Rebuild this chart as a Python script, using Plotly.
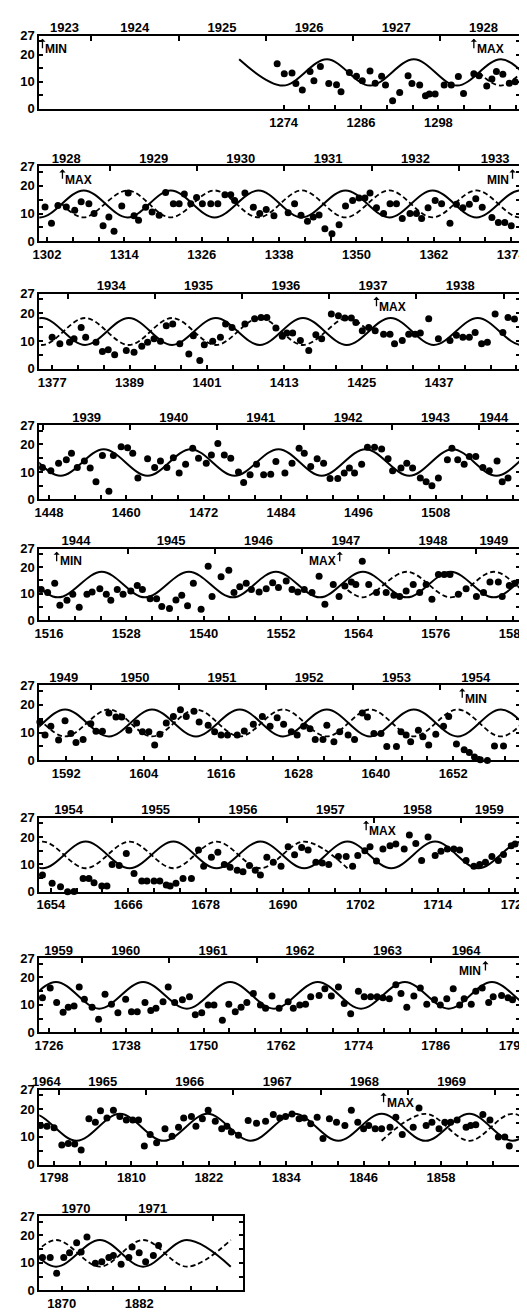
import plotly.graph_objects as go

W, H = 527, 1313
LEFT_PX = 25
PX_PER_ROT = 6.65
HI, LO, MID = 18.3, 8.6, 13.45
FONT = "Liberation Sans, Arial, Helvetica, sans-serif"

# ---------------- data (Bartels rotation, value) ----------------
P1_ROT = [1273.0, 1274.1, 1275.3, 1275.9, 1276.9, 1278.1, 1278.7, 1279.7, 1281.0, 1282.2,
          1282.9, 1284.2, 1285.3, 1286.2, 1287.4, 1288.2, 1289.2, 1289.8, 1290.9, 1292.0,
          1293.3, 1293.9, 1295.1, 1296.0, 1296.6, 1297.5, 1298.9, 1300.0, 1301.1, 1301.9,
          1303.5, 1304.3, 1305.5, 1306.3, 1307.0, 1308.0, 1309.0, 1309.9]
P1_VAL = [16.7, 13.0, 13.3, 9.4, 7.0, 13.8, 10.4, 15.7, 9.4, 8.9,
          6.3, 13.4, 12.1, 10.4, 14.0, 9.5, 12.1, 8.8, 3.0, 6.1,
          12.2, 9.4, 8.8, 4.9, 5.5, 5.5, 8.8, 8.8, 12.0, 5.7,
          13.0, 12.2, 8.5, 11.0, 13.8, 12.8, 9.5, 10.0]

P2_ROT = [1301.7, 1302.7, 1303.7, 1305.0, 1306.3, 1307.3, 1308.5, 1309.3, 1310.7, 1311.6,
          1312.4, 1313.6, 1314.6, 1315.5, 1316.2, 1317.3, 1318.3, 1319.4, 1320.4, 1321.6,
          1322.5, 1323.3, 1324.3, 1325.2, 1326.1, 1327.4, 1328.5, 1329.6, 1330.5, 1331.1,
          1332.7, 1334.0, 1335.0, 1336.0, 1337.2, 1339.4, 1340.4, 1341.4, 1342.4, 1343.3,
          1344.2, 1345.1, 1346.2, 1347.3, 1348.3, 1349.4, 1350.4, 1351.3, 1352.1, 1353.1,
          1354.2, 1355.2, 1356.2, 1357.1, 1358.3, 1359.3, 1360.1, 1361.1, 1362.2, 1363.2,
          1364.5, 1365.5, 1366.5, 1367.5, 1368.5, 1369.5, 1371.0, 1372.0, 1373.0, 1374.0]
P2_VAL = [12.4, 6.5, 12.9, 12.4, 11.2, 14.2, 13.5, 10.0, 5.6, 8.8,
          3.6, 12.7, 17.4, 9.2, 7.6, 12.3, 10.6, 9.4, 17.6, 13.5,
          13.5, 17.0, 13.5, 15.8, 13.5, 13.5, 13.5, 16.8, 16.8, 14.7,
          17.4, 12.3, 10.0, 11.5, 9.2, 10.3, 13.5, 9.4, 7.2, 8.8,
          9.5, 4.5, 2.7, 6.0, 12.7, 14.7, 15.6, 15.6, 17.4, 12.1,
          10.0, 13.5, 13.5, 8.2, 10.0, 10.0, 8.2, 12.1, 14.7, 13.5,
          6.5, 13.3, 12.1, 13.3, 15.3, 12.3, 8.6, 6.8, 6.8, 5.6]

P3_ROT = [1377.0, 1378.2, 1379.7, 1380.4, 1381.5, 1382.2, 1383.8, 1384.8, 1385.7, 1386.7,
          1388.5, 1389.7, 1390.9, 1391.8, 1392.8, 1393.8, 1394.7, 1395.7, 1396.8, 1398.2,
          1398.9, 1399.9, 1400.6, 1401.9, 1403.1, 1403.9, 1404.9, 1406.9, 1408.4, 1409.4,
          1410.3, 1411.7, 1412.7, 1413.4, 1414.3, 1415.5, 1416.8, 1417.9, 1418.8, 1420.3,
          1421.4, 1422.4, 1423.4, 1424.1, 1425.1, 1426.1, 1427.1, 1428.4, 1429.4, 1430.1,
          1431.3, 1432.3, 1433.3, 1434.1, 1435.4, 1436.9, 1438.7, 1439.7, 1440.7, 1441.7,
          1442.6, 1443.6, 1444.5, 1445.7, 1446.9, 1447.7, 1448.7]
P3_VAL = [11.4, 9.0, 9.6, 10.8, 14.9, 11.4, 9.6, 6.3, 6.9, 5.1,
          6.6, 6.0, 8.1, 9.6, 10.8, 9.9, 15.5, 16.1, 9.0, 5.4,
          11.9, 3.0, 8.7, 9.9, 11.4, 16.1, 14.9, 16.1, 18.0, 18.5,
          18.5, 14.7, 11.7, 12.9, 12.9, 10.2, 6.6, 12.3, 10.8, 19.7,
          19.1, 18.3, 18.3, 16.7, 13.7, 14.9, 13.7, 12.5, 12.5, 9.0,
          10.2, 12.5, 12.5, 12.9, 18.0, 10.8, 10.2, 12.1, 11.4, 11.4,
          13.1, 9.0, 9.6, 19.7, 13.1, 18.5, 17.9]

P4_ROT = [1447.0, 1448.3, 1449.5, 1450.7, 1451.5, 1452.4, 1453.5, 1454.4, 1455.3, 1456.3,
          1457.3, 1458.0, 1459.2, 1460.2, 1461.0, 1461.8, 1463.3, 1464.4, 1465.3, 1466.3,
          1467.3, 1468.2, 1469.2, 1470.3, 1471.2, 1472.4, 1473.2, 1474.2, 1475.2, 1476.2,
          1477.4, 1478.2, 1479.2, 1480.2, 1481.3, 1482.4, 1483.2, 1484.6, 1485.7, 1486.8,
          1487.6, 1488.6, 1489.6, 1490.6, 1491.6, 1492.8, 1493.8, 1494.6, 1495.4, 1496.5,
          1497.4, 1498.5, 1499.6, 1500.6, 1501.3, 1502.6, 1503.5, 1504.4, 1505.6, 1506.5,
          1507.4, 1508.4, 1509.8, 1510.5, 1511.4, 1512.4, 1513.2, 1514.2, 1515.3, 1516.3,
          1517.5, 1518.3, 1519.2]
P4_VAL = [11.6, 10.4, 13.2, 14.4, 16.8, 11.6, 14.0, 11.4, 6.4, 16.0,
          3.0, 16.0, 19.2, 18.8, 16.8, 7.8, 14.8, 11.6, 14.0, 11.6,
          15.2, 9.6, 12.8, 18.6, 15.0, 13.2, 16.2, 20.4, 16.2, 15.0,
          10.0, 6.2, 9.0, 12.8, 9.0, 9.2, 13.8, 9.6, 13.2, 18.6,
          16.8, 12.0, 14.8, 13.2, 7.6, 7.6, 9.6, 11.4, 9.6, 12.8,
          19.0, 19.0, 18.4, 14.8, 10.4, 11.4, 13.2, 11.4, 7.8, 6.4,
          5.0, 7.8, 14.4, 18.6, 14.4, 12.8, 15.6, 15.6, 11.6, 10.4,
          14.0, 6.4, 7.8]

P5_ROT = [1514.8, 1515.8, 1516.9, 1517.7, 1518.8, 1519.7, 1520.7, 1521.9, 1522.7, 1523.9,
          1524.9, 1525.6, 1526.6, 1527.5, 1528.7, 1529.7, 1530.5, 1531.7, 1532.7, 1533.5,
          1534.7, 1535.7, 1536.6, 1537.5, 1538.4, 1539.6, 1540.7, 1541.3, 1542.7, 1543.9,
          1544.7, 1545.6, 1546.6, 1547.4, 1548.6, 1549.7, 1550.7, 1551.6, 1552.8, 1553.7,
          1554.6, 1555.6, 1556.8, 1557.9, 1558.8, 1560.1, 1561.0, 1561.9, 1562.9, 1563.6,
          1564.6, 1565.6, 1566.8, 1568.3, 1569.5, 1570.4, 1571.4, 1572.5, 1573.5, 1574.5,
          1575.4, 1576.4, 1577.3, 1578.2, 1579.5, 1580.7, 1582.3, 1583.4, 1584.4, 1585.7,
          1586.3, 1587.4, 1588.3]
P5_VAL = [11.6, 10.4, 13.9, 5.6, 7.5, 9.8, 4.8, 9.8, 10.6, 11.9,
          9.8, 7.5, 11.6, 9.8, 11.0, 13.1, 11.6, 8.1, 8.1, 5.1,
          4.4, 7.6, 9.4, 5.4, 13.9, 4.1, 20.4, 8.9, 16.4, 18.9,
          10.4, 12.6, 13.9, 11.6, 10.6, 11.9, 14.1, 12.3, 14.8, 11.6,
          10.6, 11.6, 10.4, 16.6, 6.0, 13.5, 8.9, 12.9, 14.4, 13.5,
          22.3, 13.5, 10.4, 10.4, 9.4, 8.9, 11.0, 13.5, 10.4, 13.5,
          7.9, 17.3, 17.3, 17.3, 9.8, 11.9, 8.9, 10.4, 14.4, 14.4,
          8.9, 13.1, 13.9]

P6_ROT = [1587.9, 1588.7, 1589.6, 1590.8, 1591.8, 1592.7, 1593.5, 1594.6, 1595.8, 1596.6,
          1597.6, 1598.6, 1599.7, 1600.6, 1601.7, 1602.9, 1603.8, 1604.8, 1605.7, 1606.5,
          1607.5, 1608.6, 1609.7, 1610.6, 1611.8, 1612.6, 1614.0, 1615.0, 1616.0, 1617.0,
          1618.5, 1619.6, 1621.0, 1622.4, 1623.6, 1624.7, 1625.7, 1626.9, 1627.8, 1628.8,
          1629.8, 1630.6, 1631.8, 1632.4, 1633.5, 1634.4, 1635.7, 1636.7, 1637.9, 1638.7,
          1639.7, 1640.8, 1641.7, 1643.2, 1643.9, 1644.7, 1645.4, 1646.6, 1647.3, 1648.2,
          1649.3, 1650.5, 1651.3, 1652.5, 1653.7, 1654.5, 1655.3, 1656.2, 1657.3, 1658.4,
          1659.8]
P6_VAL = [13.8, 9.1, 12.3, 7.3, 14.2, 9.7, 6.4, 7.5, 13.2, 10.5,
          10.5, 17.0, 15.6, 15.6, 10.8, 13.4, 10.3, 10.3, 5.5, 9.4,
          13.4, 15.8, 18.2, 15.8, 17.7, 13.8, 12.6, 10.3, 9.1, 9.1,
          9.1, 10.6, 13.0, 15.8, 12.3, 15.3, 13.0, 10.3, 9.1, 12.3,
          11.4, 7.5, 7.5, 12.6, 6.7, 10.3, 9.1, 7.5, 17.0, 15.6,
          9.7, 9.7, 5.0, 5.0, 10.3, 9.1, 6.7, 10.8, 8.5, 5.5,
          9.4, 12.3, 15.8, 5.9, 3.8, 2.8, 1.2, 0.2, 0.0, 5.2,
          5.2]

P7_ROT = [1652.7, 1654.2, 1655.5, 1656.6, 1657.6, 1659.0, 1659.9, 1660.7, 1661.9, 1662.7,
          1663.5, 1664.6, 1665.7, 1666.9, 1668.1, 1668.9, 1670.0, 1670.9, 1671.9, 1672.5,
          1673.4, 1674.5, 1675.8, 1676.9, 1677.7, 1678.9, 1679.9, 1680.9, 1681.8, 1682.9,
          1683.8, 1684.8, 1685.7, 1686.5, 1687.5, 1688.5, 1689.7, 1690.8, 1691.8, 1692.9,
          1693.9, 1695.1, 1696.1, 1697.1, 1698.6, 1699.8, 1700.8, 1701.6, 1702.7, 1703.5,
          1704.5, 1705.5, 1706.6, 1707.5, 1708.8, 1709.6, 1710.6, 1711.5, 1712.5, 1713.6,
          1714.5, 1715.5, 1716.5, 1717.4, 1718.4, 1719.6, 1720.5, 1721.4, 1722.4, 1723.4,
          1724.2, 1725.4, 1726.0]
P7_VAL = [6.1, 3.1, 1.9, 0.0, 0.1, 4.9, 4.9, 3.3, 2.1, 2.1,
          10.0, 9.6, 14.0, 6.7, 4.0, 4.0, 4.0, 4.0, 2.5, 2.1,
          3.1, 4.9, 4.9, 15.2, 9.3, 12.6, 14.4, 10.0, 9.0, 7.9,
          7.3, 9.6, 7.9, 6.1, 12.6, 10.8, 9.3, 16.4, 13.5, 16.2,
          15.2, 10.8, 10.5, 10.0, 12.9, 12.9, 9.3, 13.2, 15.0, 16.4,
          11.2, 15.6, 16.8, 17.4, 15.6, 20.7, 17.6, 11.4, 20.0, 13.2,
          14.8, 15.6, 15.6, 15.2, 11.4, 9.3, 10.0, 10.8, 12.9, 11.4,
          13.6, 16.8, 17.4]

P8_ROT = [1725.0, 1726.2, 1727.2, 1728.2, 1729.0, 1729.9, 1730.7, 1731.5, 1732.7, 1733.7,
          1734.7, 1735.7, 1736.7, 1737.9, 1738.8, 1739.7, 1740.9, 1741.8, 1742.6, 1743.7,
          1744.5, 1745.5, 1746.7, 1747.8, 1748.7, 1749.7, 1750.7, 1751.6, 1752.9, 1753.9,
          1754.9, 1755.8, 1756.7, 1757.7, 1758.8, 1759.6, 1760.6, 1761.7, 1763.1, 1763.9,
          1764.9, 1765.8, 1766.6, 1767.9, 1768.8, 1769.8, 1770.9, 1771.8, 1772.8, 1774.0,
          1774.9, 1775.9, 1776.9, 1777.8, 1778.8, 1779.8, 1780.6, 1781.5, 1782.6, 1783.6,
          1784.6, 1785.8, 1786.7, 1787.7, 1788.7, 1789.7, 1790.4, 1791.5, 1792.2, 1793.2,
          1794.2, 1794.9, 1796.2, 1797.2, 1797.9]
P8_VAL = [12.6, 16.1, 10.8, 7.3, 9.1, 9.6, 16.5, 12.0, 9.1, 4.7,
          13.8, 10.2, 7.1, 12.0, 7.5, 7.5, 10.8, 7.9, 8.7, 11.1,
          16.5, 10.8, 11.8, 12.9, 6.4, 7.1, 9.9, 9.9, 4.4, 10.2,
          7.5, 9.1, 10.8, 14.1, 9.9, 8.7, 13.2, 8.7, 11.1, 8.7,
          9.9, 10.2, 12.9, 13.4, 15.8, 13.2, 16.5, 10.5, 6.7, 14.9,
          12.9, 12.9, 12.9, 12.6, 12.2, 17.3, 14.1, 9.1, 13.2, 16.1,
          10.2, 11.8, 9.9, 12.2, 15.8, 9.9, 12.2, 10.2, 14.9, 16.1,
          10.8, 12.9, 13.4, 12.6, 11.8]

P9_ROT = [1795.9, 1796.9, 1798.0, 1799.2, 1800.2, 1801.2, 1802.2, 1803.4, 1804.4, 1805.2,
          1806.2, 1807.2, 1808.2, 1809.2, 1810.2, 1811.1, 1812.0, 1812.9, 1813.9, 1815.2,
          1816.3, 1817.3, 1818.1, 1819.3, 1820.0, 1821.0, 1821.9, 1823.0, 1824.0, 1824.8,
          1825.5, 1826.6, 1828.1, 1829.4, 1830.8, 1832.0, 1833.0, 1833.9, 1834.9, 1836.0,
          1836.8, 1837.8, 1838.8, 1839.7, 1840.7, 1841.8, 1843.1, 1844.1, 1845.1, 1846.0,
          1846.8, 1847.8, 1848.8, 1850.1, 1851.0, 1852.0, 1853.7, 1854.6, 1855.7, 1856.6,
          1857.7, 1858.6, 1859.5, 1860.5, 1861.9, 1862.6, 1863.4, 1864.5, 1865.6, 1866.9,
          1867.9, 1868.6]
P9_VAL = [14.1, 13.8, 13.3, 7.1, 7.6, 7.4, 5.3, 16.5, 15.3, 19.4,
          16.8, 19.6, 17.3, 16.1, 16.1, 16.1, 6.7, 10.9, 7.9, 12.9,
          10.2, 13.5, 16.8, 17.3, 13.8, 16.5, 19.6, 15.6, 12.9, 13.8,
          11.8, 10.6, 15.9, 14.9, 15.6, 18.0, 16.8, 17.3, 18.2, 16.5,
          16.8, 14.7, 17.1, 9.4, 16.5, 15.3, 14.1, 19.6, 15.3, 12.9,
          14.1, 12.9, 12.9, 13.5, 17.1, 10.9, 13.5, 20.4, 14.1, 15.3,
          12.9, 15.3, 15.3, 16.1, 13.5, 14.1, 14.4, 18.0, 16.1, 10.0,
          10.0, 6.7]

P10_ROT = [1867.0, 1868.2, 1869.2, 1870.3, 1871.2, 1872.3, 1873.0, 1873.9, 1875.2, 1876.2,
           1877.3, 1878.0, 1879.2, 1880.4, 1880.9, 1882.0, 1883.0, 1884.2, 1885.0]
P10_VAL = [11.9, 11.9, 6.2, 11.9, 13.7, 17.3, 13.9, 19.4, 9.8, 10.4,
           11.9, 12.7, 9.5, 11.9, 15.8, 13.7, 10.4, 12.7, 16.3]

# turning points of the solid curve (rotation)
SOLID_MAX_ROT = [1267.1, 1280.7, 1294.2, 1307.7, 1321.2, 1334.8, 1348.3, 1361.8, 1375.4, 1388.9,
                 1402.4, 1415.9, 1429.5, 1443.0, 1456.5, 1470.0, 1483.6, 1497.1, 1510.6, 1524.2,
                 1537.7, 1551.2, 1564.7, 1578.3, 1591.8, 1605.3, 1618.9, 1632.4, 1645.9, 1659.4,
                 1673.0, 1686.5, 1700.0, 1713.6, 1727.1, 1740.6, 1754.1, 1767.7, 1781.2, 1794.7,
                 1808.2, 1821.8, 1835.3, 1848.8, 1862.4, 1875.9, 1889.4]
SOLID_MIN_ROT = [1273.9, 1287.4, 1300.9, 1314.5, 1328.0, 1341.5, 1355.1, 1368.6, 1382.1, 1395.6,
                 1409.2, 1422.7, 1436.2, 1449.8, 1463.3, 1476.8, 1490.3, 1503.9, 1517.4, 1530.9,
                 1544.5, 1558.0, 1571.5, 1585.0, 1598.6, 1612.1, 1625.6, 1639.1, 1652.7, 1666.2,
                 1679.7, 1693.3, 1706.8, 1720.3, 1733.8, 1747.4, 1760.9, 1774.4, 1788.0, 1801.5,
                 1815.0, 1828.5, 1842.1, 1855.6, 1869.1, 1882.6, 1896.2]
# spans where the dashed (opposite phase) curve is drawn
DASH_SPANS = [(1304.3, 1426.1), (1561.4, 1700.0), (1848.8, 1896.2)]

# rotation at which each calendar year starts (1923 ... 1972)
YEAR_START_ROT = [1230.6, 1244.1, 1257.7, 1271.2, 1284.7, 1298.2, 1311.8, 1325.3, 1338.8, 1352.4,
                  1365.9, 1379.4, 1392.9, 1406.5, 1420.0, 1433.5, 1447.1, 1460.6, 1474.1, 1487.6,
                  1501.2, 1514.7, 1528.2, 1541.7, 1555.3, 1568.8, 1582.3, 1595.9, 1609.4, 1622.9,
                  1636.4, 1650.0, 1663.5, 1677.0, 1690.6, 1704.1, 1717.6, 1731.1, 1744.7, 1758.2,
                  1771.7, 1785.3, 1798.8, 1812.3, 1825.8, 1839.4, 1852.9, 1866.4, 1879.9, 1893.5]
FIRST_YEAR = 1923

# cycle markers: (panel, rotation, text, text side of arrow)
MARKERS = [(1, 1236.6, 'MIN', 'right'), (1, 1303.5, 'MAX', 'right'),
           (2, 1304.4, 'MAX', 'right'), (2, 1374.2, 'MIN', 'left'),
           (3, 1427.3, 'MAX', 'right'),
           (5, 1517.2, 'MIN', 'right'), (5, 1561.1, 'MAX', 'left'),
           (6, 1653.4, 'MIN', 'right'),
           (7, 1702.9, 'MAX', 'right'),
           (8, 1793.7, 'MIN', 'left'),
           (9, 1849.1, 'MAX', 'right')]

# label position overrides (labels as placed in the picture, pushed inside at edges)
YEAR_POS_OVERRIDE = {(1, 1923): 1240.0, (2, 1933): 1371.5, (4, 1944): 1517.0,
                     (5, 1944): 1520.2, (5, 1949): 1585.0, (6, 1949): 1591.6,
                     (6, 1954): 1655.5, (7, 1959): 1722.0, (8, 1959): 1727.5,
                     (8, 1964): 1790.7, (9, 1964): 1796.8,
                     (10, 1970): 1872.2, (10, 1971): 1884.1}

PANELS = [
    dict(xmin=1236.1, wpx=496, top=21, bot=95, rot=P1_ROT, val=P1_VAL,
         labels=[1274, 1286, 1298], years=[1923, 1924, 1925, 1926, 1927, 1928], minor_left=False),
    dict(xmin=1300.8, wpx=496, top=153, bot=229, rot=P2_ROT, val=P2_VAL,
         labels=[1302, 1314, 1326, 1338, 1350, 1362, 1374], years=[1928, 1929, 1930, 1931, 1932, 1933]),
    dict(xmin=1375.0, wpx=496, top=282, bot=358, rot=P3_ROT, val=P3_VAL,
         labels=[1377, 1389, 1401, 1413, 1425, 1437], years=[1934, 1935, 1936, 1937, 1938]),
    dict(xmin=1446.5, wpx=496, top=415, bot=490, rot=P4_ROT, val=P4_VAL,
         labels=[1448, 1460, 1472, 1484, 1496, 1508], years=[1939, 1940, 1941, 1942, 1943, 1944]),
    dict(xmin=1514.5, wpx=496, top=540, bot=612, rot=P5_ROT, val=P5_VAL,
         labels=[1516, 1528, 1540, 1552, 1564, 1576, 1588], years=[1944, 1945, 1946, 1947, 1948, 1949]),
    dict(xmin=1587.8, wpx=496, top=678, bot=754, rot=P6_ROT, val=P6_VAL,
         labels=[1592, 1604, 1616, 1628, 1640, 1652], years=[1949, 1950, 1951, 1952, 1953, 1954]),
    dict(xmin=1652.2, wpx=496, top=812, bot=887, rot=P7_ROT, val=P7_VAL,
         labels=[1654, 1666, 1678, 1690, 1702, 1714, 1726], years=[1954, 1955, 1956, 1957, 1958, 1959]),
    dict(xmin=1724.5, wpx=496, top=954, bot=1029, rot=P8_ROT, val=P8_VAL,
         labels=[1726, 1738, 1750, 1762, 1774, 1786, 1798], years=[1959, 1960, 1961, 1962, 1963, 1964]),
    dict(xmin=1795.7, wpx=496, top=1087, bot=1163, rot=P9_ROT, val=P9_VAL,
         labels=[1798, 1810, 1822, 1834, 1846, 1858], years=[1964, 1965, 1966, 1967, 1968, 1969]),
    dict(xmin=1866.5, wpx=210, top=1215, bot=1290, rot=P10_ROT, val=P10_VAL,
         labels=[1870, 1882], years=[1970, 1971]),
]

# ---------------- helpers ----------------
SOLID_PTS = sorted([(r, HI) for r in SOLID_MAX_ROT] + [(r, LO) for r in SOLID_MIN_ROT])
DASH_PTS = [(r, LO if v == HI else HI) for r, v in SOLID_PTS]


def dash_knots(a, b):
    pts = [(r, v) for r, v in DASH_PTS if a - 0.05 <= r <= b + 0.05]
    if not pts or abs(pts[0][0] - a) > 0.05:
        pts.insert(0, (a, MID))
    if abs(pts[-1][0] - b) > 0.05:
        pts.append((b, MID))
    return pts


def window(pts, lo, hi):
    return [(r, v) for r, v in pts if lo <= r <= hi]


def mid_year(y):
    i = y - FIRST_YEAR
    return (YEAR_START_ROT[i] + YEAR_START_ROT[i + 1]) / 2.0


TF = dict(family=FONT, size=13, color='black', weight='bold')
AF = dict(family=FONT, size=12, color='black', weight='bold')

fig = go.Figure()
layout = dict(width=W, height=H, margin=dict(l=0, r=0, t=0, b=0),
              paper_bgcolor='white', plot_bgcolor='white', showlegend=False,
              font=dict(family=FONT, color='black'))
annotations = []

for k, p in enumerate(PANELS, start=1):
    x0 = p['xmin']
    x1 = x0 + p['wpx'] / PX_PER_ROT
    xa, ya, xt = f'x{k}', f'y{k}', f'x{k + 10}'
    dom_x = [LEFT_PX / W, (LEFT_PX + p['wpx']) / W]
    dom_y = [1 - p['bot'] / H, 1 - p['top'] / H]

    # solid curve
    sp = window(SOLID_PTS, x0 - 14, x1 + 14)
    if sp:
        fig.add_trace(go.Scatter(x=[r for r, _ in sp], y=[v for _, v in sp], mode='lines',
                                 line=dict(color='black', width=2, shape='spline', smoothing=1.0),
                                 xaxis=xa, yaxis=ya, hoverinfo='skip'))
    # dashed curve(s)
    for a, b in DASH_SPANS:
        if b < x0 - 14 or a > x1 + 14:
            continue
        dp = window(dash_knots(a, b), x0 - 14, x1 + 14)
        if len(dp) < 2:
            continue
        fig.add_trace(go.Scatter(x=[r for r, _ in dp], y=[v for _, v in dp], mode='lines',
                                 line=dict(color='black', width=1.8, dash='5px,3px',
                                           shape='spline', smoothing=1.0),
                                 xaxis=xa, yaxis=ya, hoverinfo='skip'))
    # data points
    fig.add_trace(go.Scatter(x=p['rot'], y=p['val'], mode='markers',
                             marker=dict(color='black', size=7, line=dict(width=0)),
                             cliponaxis=False, xaxis=xa, yaxis=ya, hoverinfo='skip'))
    # dummy trace for the top (year) axis
    fig.add_trace(go.Scatter(x=[x0], y=[None], mode='markers', xaxis=xt, yaxis=ya,
                             hoverinfo='skip'))

    # bottom axis: rotation numbers
    first = p['labels'][0]
    minor_vals = []
    r = first
    if p.get('minor_left', True):
        while r - 4 >= x0 + 0.5:
            r -= 4
    while r <= x1 - 0.5:
        minor_vals.append(r)
        r += 4
    layout[f'xaxis{k}'] = dict(
        domain=dom_x, anchor=ya, range=[x0, x1], tickmode='array',
        tickvals=p['labels'], ticktext=[str(v) for v in p['labels']],
        ticks='inside', ticklen=4, tickwidth=1.5, tickcolor='black',
        showline=True, linewidth=2, linecolor='black', mirror=True,
        showgrid=False, zeroline=False, tickfont=TF, fixedrange=True,
        ticklabeloverflow='allow',
        minor=dict(tickmode='array', tickvals=minor_vals, ticks='inside', ticklen=4,
                   tickwidth=1.5, tickcolor='black', showgrid=False))

    # top axis: years
    ypos = [YEAR_POS_OVERRIDE.get((k, y), mid_year(y)) for y in p['years']]
    bounds = [b for b in YEAR_START_ROT if x0 + 0.5 < b < x1 - 0.5]
    layout[f'xaxis{k + 10}'] = dict(
        domain=dom_x, anchor=ya, overlaying=xa, side='top', range=[x0, x1],
        tickmode='array', tickvals=ypos, ticktext=[str(y) for y in p['years']],
        ticks='inside', ticklen=0, showline=False, showgrid=False, zeroline=False,
        tickfont=TF, fixedrange=True, ticklabeloverflow='allow',
        minor=dict(tickmode='array', tickvals=bounds, ticks='inside', ticklen=5,
                   tickwidth=1.5, tickcolor='black', showgrid=False))

    layout[f'yaxis{k}'] = dict(
        domain=dom_y, anchor=xa, range=[0, 27], tickmode='array',
        tickvals=[0, 5, 10, 15, 20, 25, 27], ticktext=['0', '', '10', '', '20', '', '27'],
        ticks='inside', ticklen=4, tickwidth=1.5, tickcolor='black',
        showline=True, linewidth=2, linecolor='black', mirror='ticks',
        showgrid=False, zeroline=False, tickfont=TF, fixedrange=True)

for k, r, txt, side in MARKERS:
    xa, ya = f'x{k}', f'y{k}'
    annotations.append(dict(x=r, y=25.9, xref=xa, yref=ya, text='', showarrow=True,
                            arrowhead=1, arrowsize=0.8, arrowwidth=1.3, arrowcolor='black',
                            ax=0, ay=11))
    annotations.append(dict(x=r, y=22.2, xref=xa, yref=ya, text=txt, showarrow=False,
                            xanchor='left' if side == 'right' else 'right',
                            xshift=1 if side == 'right' else -2,
                            yanchor='middle', font=AF))

layout['annotations'] = annotations
fig.update_layout(**layout)
fig.write_html("out.html")
